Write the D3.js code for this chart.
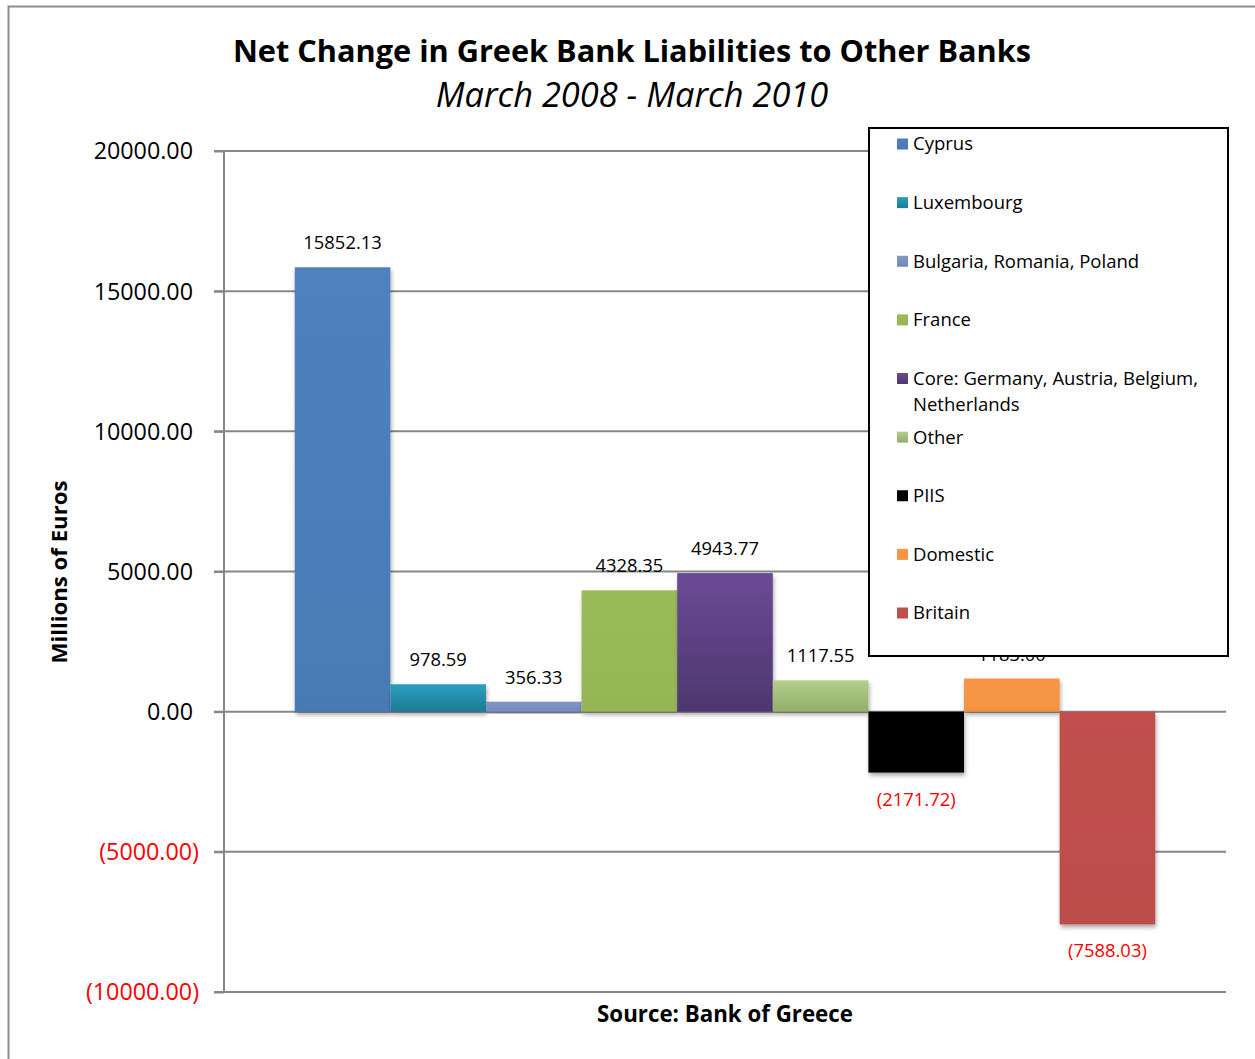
<!DOCTYPE html>
<html>
<head>
<meta charset="utf-8">
<script src="https://cdn.jsdelivr.net/npm/d3@7"></script>
<style>
  html, body { margin: 0; padding: 0; background: #fff; }
  svg { display: block; font-family: "Open Sans", Lato, sans-serif; }
</style>
</head>
<body>
<svg id="chart" width="1255" height="1059"></svg>
<script>
// Net change in Greek bank liabilities to other banks, by counterparty (millions of euros)
const categories = [
  "Cyprus",
  "Luxembourg",
  "Bulgaria, Romania, Poland",
  "France",
  "Core: Germany, Austria, Belgium, Netherlands",
  "Other",
  "PIIS",
  "Domestic",
  "Britain"
];
const values = [15852.13, 978.59, 356.33, 4328.35, 4943.77, 1117.55, -2171.72, 1183.00, -7588.03];
const yTicks = [20000, 15000, 10000, 5000, 0, -5000, -10000];
const colors = ["#4F81BD", "#2C9FBF", "#8197C9", "#9BBB59", "#6A4A95", "#B3CF8A", "#000000", "#F79646", "#C0504D"];
const colorsDark = ["#4A7AB4", "#1F7A93", "#7389BC", "#96B655", "#4E3770", "#93AE6C", "#000000", "#F49443", "#BC4D4A"];

const svg = d3.select("#chart");
const defs = svg.append("defs");

const shadow = defs.append("filter").attr("id", "shadow")
  .attr("x", "-10%").attr("y", "-10%").attr("width", "130%").attr("height", "130%");
shadow.append("feGaussianBlur").attr("in", "SourceAlpha").attr("stdDeviation", 2.2);
shadow.append("feOffset").attr("dx", 1).attr("dy", 2.5).attr("result", "off");
shadow.append("feComponentTransfer").append("feFuncA").attr("type", "linear").attr("slope", 0.35);
const merge = shadow.append("feMerge");
merge.append("feMergeNode");
merge.append("feMergeNode").attr("in", "SourceGraphic");

colors.forEach((c, i) => {
  const g = defs.append("linearGradient").attr("id", "grad" + i)
    .attr("x1", 0).attr("y1", 0).attr("x2", 0).attr("y2", 1);
  g.append("stop").attr("offset", "0%").attr("stop-color", c);
  g.append("stop").attr("offset", "100%").attr("stop-color", colorsDark[i]);
});

// outer chart frame
svg.append("path")
  .attr("d", "M8.5,1059 V6.5 H1255")
  .attr("fill", "none").attr("stroke", "#8C8C8C").attr("stroke-width", 2);

const plot = { left: 224, right: 1226, top: 151, bottom: 992 };

const y = d3.scaleLinear().domain([-10000, 20000]).range([plot.bottom, plot.top]);
const x = d3.scaleBand().domain(categories)
  .range([plot.left, plot.right]).paddingInner(0).paddingOuter(0.74);

const fmt = d3.format(".2f");
const fmtParen = v => v < 0 ? "(" + fmt(-v) + ")" : fmt(v);

// gridlines and left tick stubs
const grid = svg.append("g");
grid.selectAll("line").data(yTicks).join("line")
  .attr("x1", plot.left - 10).attr("x2", plot.right)
  .attr("y1", d => y(d)).attr("y2", d => y(d))
  .attr("stroke", "#868686").attr("stroke-width", 2);

// vertical value axis
const yAxis = svg.append("g")
  .attr("transform", `translate(${plot.left},0)`)
  .call(d3.axisLeft(y).tickValues(yTicks).tickSize(10).tickFormat(fmtParen));
yAxis.select(".domain").attr("stroke", "#868686").attr("stroke-width", 2).attr("d", `M0,${plot.top}V${plot.bottom}`);
yAxis.selectAll(".tick line").attr("stroke", "#868686").attr("stroke-width", 2);
yAxis.selectAll(".tick text")
  .attr("x", d => d < 0 ? -25 : -31)
  .attr("dy", "0.34em")
  .style("font-family", "'Open Sans', Lato, sans-serif")
  .style("font-size", "23.3px")
  .attr("fill", d => d < 0 ? "#FF0000" : "#000");

// bars
svg.append("g").selectAll("rect").data(categories).join("rect")
  .attr("x", d => x(d))
  .attr("width", x.bandwidth())
  .attr("y", (d, i) => y(Math.max(0, values[i])))
  .attr("height", (d, i) => Math.abs(y(values[i]) - y(0)))
  .attr("fill", (d, i) => `url(#grad${i})`)
  .attr("filter", "url(#shadow)");

// value labels
svg.append("g").selectAll("text").data(categories).join("text")
  .attr("x", d => x(d) + x.bandwidth() / 2)
  .attr("y", (d, i) => values[i] >= 0 ? y(values[i]) - 18 : y(values[i]) + 33)
  .attr("text-anchor", "middle")
  .style("font-size", "18.4px")
  .attr("fill", (d, i) => values[i] < 0 ? "#FF0000" : "#000")
  .text((d, i) => fmtParen(values[i]));

// titles
svg.append("text").attr("x", 632).attr("y", 62).attr("text-anchor", "middle")
  .style("font-size", "30.7px").style("font-weight", "bold")
  .text("Net Change in Greek Bank Liabilities to Other Banks");
svg.append("text").attr("x", 632).attr("y", 107).attr("text-anchor", "middle")
  .style("font-size", "34.4px").style("font-style", "italic")
  .text("March 2008 - March 2010");
svg.append("text").attr("x", 725).attr("y", 1022).attr("text-anchor", "middle")
  .style("font-size", "22.3px").style("font-weight", "bold")
  .text("Source: Bank of Greece");
svg.append("text").attr("transform", "translate(67,572) rotate(-90)").attr("text-anchor", "middle")
  .style("font-size", "22.2px").style("font-weight", "bold")
  .text("Millions of Euros");

// legend
const legend = svg.append("g");
legend.append("rect").attr("x", 869).attr("y", 128).attr("width", 359).attr("height", 528)
  .attr("fill", "#fff").attr("stroke", "#000").attr("stroke-width", 2);
const legendLines = [
  ["Cyprus"], ["Luxembourg"], ["Bulgaria, Romania, Poland"], ["France"],
  ["Core: Germany, Austria, Belgium,", "Netherlands"], ["Other"], ["PIIS"], ["Domestic"], ["Britain"]
];
const ly = d3.scaleLinear().domain([0, 8]).range([144, 613]);
const items = legend.selectAll("g.item").data(categories).join("g").attr("class", "item")
  .attr("transform", (d, i) => `translate(897,${ly(i)})`);
items.append("rect").attr("x", 0).attr("y", -5.5).attr("width", 11).attr("height", 11)
  .attr("fill", (d, i) => `url(#grad${i})`);
items.each(function (d, i) {
  const t = d3.select(this).append("text").attr("x", 16).attr("y", 0)
    .style("font-size", "18.5px");
  legendLines[i].forEach((line, k) => {
    t.append("tspan").attr("x", 16).attr("dy", k === 0 ? "0.35em" : "26px").text(line);
  });
});
</script>
</body>
</html>
